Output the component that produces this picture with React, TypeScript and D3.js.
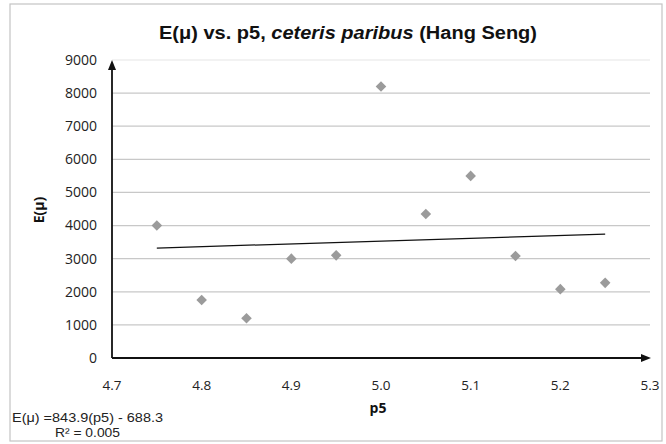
import React from "react";
import * as d3 from "d3";

const p5Values = [4.75, 4.8, 4.85, 4.9, 4.95, 5.0, 5.05, 5.1, 5.15, 5.2, 5.25];
const eMuValues = [4000, 1750, 1200, 3000, 3100, 8200, 4350, 5500, 3080, 2080, 2270];
const xTicks = [4.7, 4.8, 4.9, 5.0, 5.1, 5.2, 5.3];
const yTicks = [0, 1000, 2000, 3000, 4000, 5000, 6000, 7000, 8000, 9000];
const trendSlope = 843.9;
const trendIntercept = -688.3;
const trendRange = [4.75, 5.25];
const titleParts = ["E(\u03bc) vs. p5, ", "ceteris paribus", " (Hang Seng)"];
const equationText = "E(\u03bc)  =843.9(p5) - 688.3";
const r2Text = "R\u00b2 = 0.005";

export default function App() {
  const W = 666;
  const H = 444;
  const x = d3.scaleLinear().domain([4.7, 5.3]).range([112, 650]);
  const y = d3.scaleLinear().domain([0, 9000]).range([358, 60]);
  const diamond = d3.symbol().type(d3.symbolSquare).size(56)();
  const line = d3
    .line<number>()
    .x((d) => x(d))
    .y((d) => y(trendSlope * d + trendIntercept));
  const tickFont = "'Open Sans', 'DejaVu Sans', sans-serif";
  return (
    <svg
      width={W}
      height={H}
      style={{ position: "absolute", left: 0, top: 0, background: "#fff" }}
    >
      <rect x={0} y={0} width={W} height={H} fill="#fff" />
      <rect x={10} y={4} width={652} height={437} fill="none" stroke="#c4c4c4" strokeWidth={1.2} />
      <text
        x={348}
        y={39}
        textAnchor="middle"
        fontFamily="'Liberation Sans', Arial, sans-serif"
        fontWeight="bold"
        fontSize={18}
        fill="#111"
        textLength={378}
        lengthAdjust="spacingAndGlyphs"
      >
        <tspan>{titleParts[0]}</tspan>
        <tspan fontStyle="italic">{titleParts[1]}</tspan>
        <tspan>{titleParts[2]}</tspan>
      </text>
      {yTicks.map((t) => (
        <g key={t}>
          {t > 0 && (
            <line
              x1={112}
              x2={650}
              y1={y(t)}
              y2={y(t)}
              stroke={t === 9000 ? "#e6e6e6" : "#c8c8c8"}
              strokeWidth={1.2}
            />
          )}
          <text
            x={97}
            y={y(t)}
            dy="0.35em"
            textAnchor="end"
            fontFamily={tickFont}
            fontSize={14}
            fill="#222"
          >
            {t}
          </text>
        </g>
      ))}
      {xTicks.map((t) => (
        <text
          key={t}
          x={x(t)}
          y={385}
          dy="0.35em"
          textAnchor="middle"
          fontFamily={tickFont}
          fontSize={13.5}
          fill="#222"
        >
          {t.toFixed(1)}
        </text>
      ))}
      <line x1={112} x2={112} y1={358} y2={66} stroke="#111" strokeWidth={1.8} />
      <path d={`M${112},${60} L${108},${70} L${116},${70} Z`} fill="#111" />
      <line x1={112} x2={644} y1={358} y2={358} stroke="#111" strokeWidth={1.8} />
      <path d={`M${651},${358} L${641},${354} L${641},${362} Z`} fill="#111" />
      <path d={line(trendRange) || ""} fill="none" stroke="#111" strokeWidth={1.2} />
      {p5Values.map((p, i) => (
        <path
          key={i}
          d={diamond}
          transform={`translate(${x(p)},${y(eMuValues[i])}) rotate(45)`}
          fill="#9b9b9b"
        />
      ))}
      <text
        transform="translate(44,210) rotate(-90)"
        textAnchor="middle"
        fontFamily={tickFont}
        fontWeight="bold"
        fontSize={14}
        fill="#111"
      >
        E(μ)
      </text>
      <text
        x={378}
        y={413}
        textAnchor="middle"
        fontFamily={tickFont}
        fontWeight="bold"
        fontSize={14}
        fill="#111"
      >
        p5
      </text>
      <text
        x={12}
        y={422}
        fontFamily="'Liberation Sans', Arial, sans-serif"
        fontSize={13}
        fill="#222"
        textLength={151}
        lengthAdjust="spacingAndGlyphs"
      >
        {equationText}
      </text>
      <text
        x={55}
        y={437}
        fontFamily="'Liberation Sans', Arial, sans-serif"
        fontSize={13}
        fill="#222"
        textLength={65}
        lengthAdjust="spacingAndGlyphs"
      >
        {r2Text}
      </text>
    </svg>
  );
}
